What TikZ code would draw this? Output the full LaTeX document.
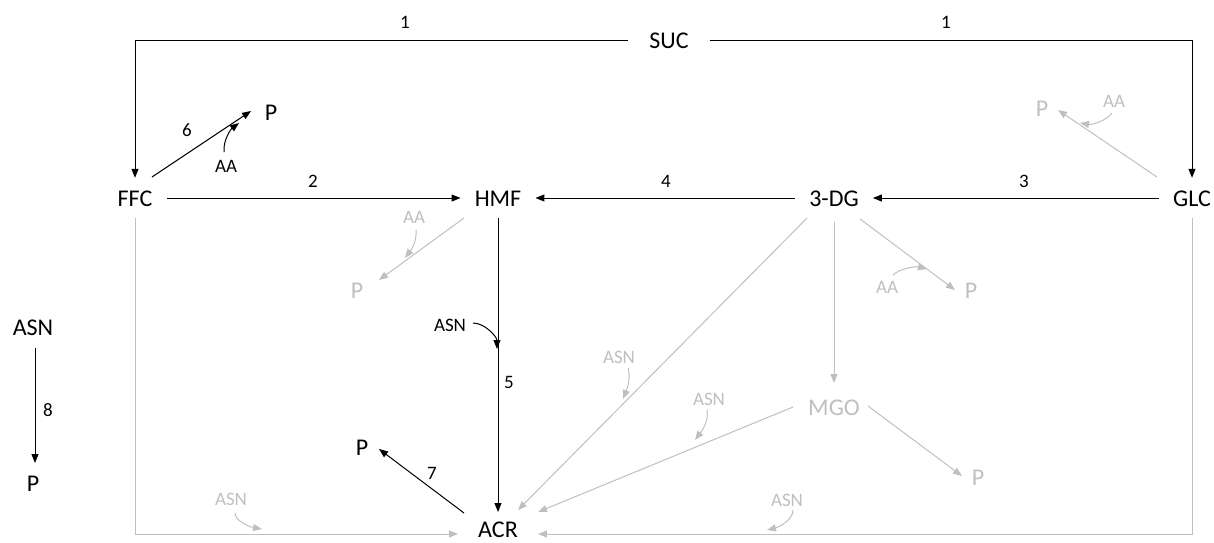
\documentclass[tikz,border=0pt]{standalone}
\usepackage{fontspec}
\setmainfont{Carlito}
\usetikzlibrary{arrows.meta,calc}
\definecolor{lg}{HTML}{BFBFBF}
\tikzset{
  big/.style={font=\fontsize{24}{24}\selectfont, text height=16pt, text depth=0pt, inner xsep=14pt, inner ysep=12pt},
  sml/.style={font=\fontsize{19}{19}\selectfont, inner sep=0pt},
  gbig/.style={big, text=lg},
  gsml/.style={sml, text=lg},
  arr/.style={line width=1pt, -{Triangle[length=9pt,width=7pt]}},
  blk/.style={arr, draw=black},
  gry/.style={arr, draw=lg, color=lg}
}
\begin{document}
\begin{tikzpicture}[x=1pt,y=-1pt]
\useasboundingbox (0,0) rectangle (1214,542);
% main nodes
\node[big, inner xsep=21pt] (suc) at (669,40) {SUC};
\node[big] (ffc) at (135,198) {FFC};
\node[big] (hmf) at (498,198) {HMF};
\node[big] (dg) at (834,198) {3-DG};
\node[big] (glc) at (1192,198) {GLC};
\node[big, inner xsep=20pt, inner ysep=1pt] (acr) at (498,529) {ACR};
\node[gbig] (mgo) at (834,407) {MGO};
\node[big] (asnl) at (33,327) {ASN};
\node[big] (pl) at (33,483) {P};
\node[big] (p6) at (271,112) {P};
\node[big] (p7) at (362,447) {P};
\node[gbig] (ph) at (357,290) {P};
\node[gbig] (pg) at (1042,108) {P};
\node[gbig] (pd) at (971,290) {P};
\node[gbig] (pm) at (978,477) {P};
% small labels
\node[sml] (aa6) at (226,166) {AA};
\node[sml] (asn5) at (450,325) {ASN};
\node[gsml] (aah) at (414,217) {AA};
\node[gsml] (aag) at (1114,101) {AA};
\node[gsml] (aad) at (887,287) {AA};
\node[gsml] (asnd) at (619,357) {ASN};
\node[gsml] (asnm) at (709,399) {ASN};
\node[gsml] (asnb) at (231,499) {ASN};
\node[gsml] (asnr) at (787,500) {ASN};
% numbers
\node[sml] (n1a) at (405,22) {1};
\node[sml] (n1b) at (946,22) {1};
\node[sml] (n2) at (313,181) {2};
\node[sml] (n4) at (666,181) {4};
\node[sml] (n3) at (1024,181) {3};
\node[sml] (n6) at (187,130) {6};
\node[sml] (n5) at (509,382) {5};
\node[sml] (n7) at (432,473) {7};
\node[sml] (n8) at (48,410) {8};

% grey connectors (drawn first)
\draw[gry] (ffc.south) |- ($(acr.west)+(0,5)$);
\draw[gry] (glc.south) |- ($(acr.east)+(0,5)$);
\draw[gry] ($(hmf)+(-34,20)$) -- ($(ph)+(22,-10)$);
\draw[gry] ($(glc)+(-35,-21)$) -- ($(pg)+(16,2)$);
\draw[gry] ($(dg)+(26,21)$) -- ($(pd)+(-16,0)$);
\draw[gry] ($(dg)+(0,24)$) -- ($(mgo)+(0,-24)$);
\draw[gry] ($(mgo)+(34,-1)$) -- ($(pm)+(-16,-1)$);
\draw[gry] ($(mgo)+(-41,0)$) -- ($(acr)+(40,-17)$);
\draw[gry] ($(dg)+(-27,20)$) -- ($(acr)+(20,-19)$);
\draw[gry] ($(aah)+(2,13)$) .. controls +(1,12) and +(6,-8) .. ($(aah)+(-9,41)$);
\draw[gry] ($(aag)+(-2,12)$) .. controls +(-6,8) and +(12,2) .. ($(aag)+(-34,22)$);
\draw[gry] ($(aad)+(6,-12)$) .. controls +(6,-6) and +(-12,-3) .. ($(aad)+(40,-18)$);
\draw[gry] ($(asnm)+(-2,11)$) .. controls +(2,12) and +(6,-8) .. ($(asnm)+(-14,41)$);
\draw[gry] ($(asnd)+(9,11)$) .. controls +(3,10) and +(4,-10) .. ($(asnd)+(4,42)$);
\draw[gry] ($(asnb)+(4,14)$) .. controls +(0,8) and +(-12,-2) .. ($(asnb)+(31,30)$);
\draw[gry] ($(asnr)+(6,10)$) .. controls +(0,10) and +(12,-3) .. ($(asnr)+(-20,30)$);

% black connectors
\draw[blk] (suc.west) -| (ffc.north);
\draw[blk] (suc.east) -| (glc.north);
\draw[blk] (ffc.east) -- (hmf.west);
\draw[blk] (dg.west) -- (hmf.east);
\draw[blk] (glc.west) -- (dg.east);
\draw[blk] (hmf.south) -- ($(acr)+(0,-17)$);
\draw[blk] ($(ffc)+(17,-21)$) -- ($(p6)+(-20,-1)$);
\draw[blk] ($(acr)+(-34,-16)$) -- ($(p7)+(17,2)$);
\draw[blk] ($(asnl)+(2,21)$) -- ($(pl)+(2,-20)$);
\draw[blk] ($(aa6)+(-2,-14)$) .. controls +(-1,-12) and +(-8,6) .. ($(aa6)+(13,-43)$);
\draw[blk] ($(asn5)+(23,-2)$) .. controls +(12,0) and +(0,-12) .. ($(asn5)+(47,24)$);
\end{tikzpicture}
\end{document}
